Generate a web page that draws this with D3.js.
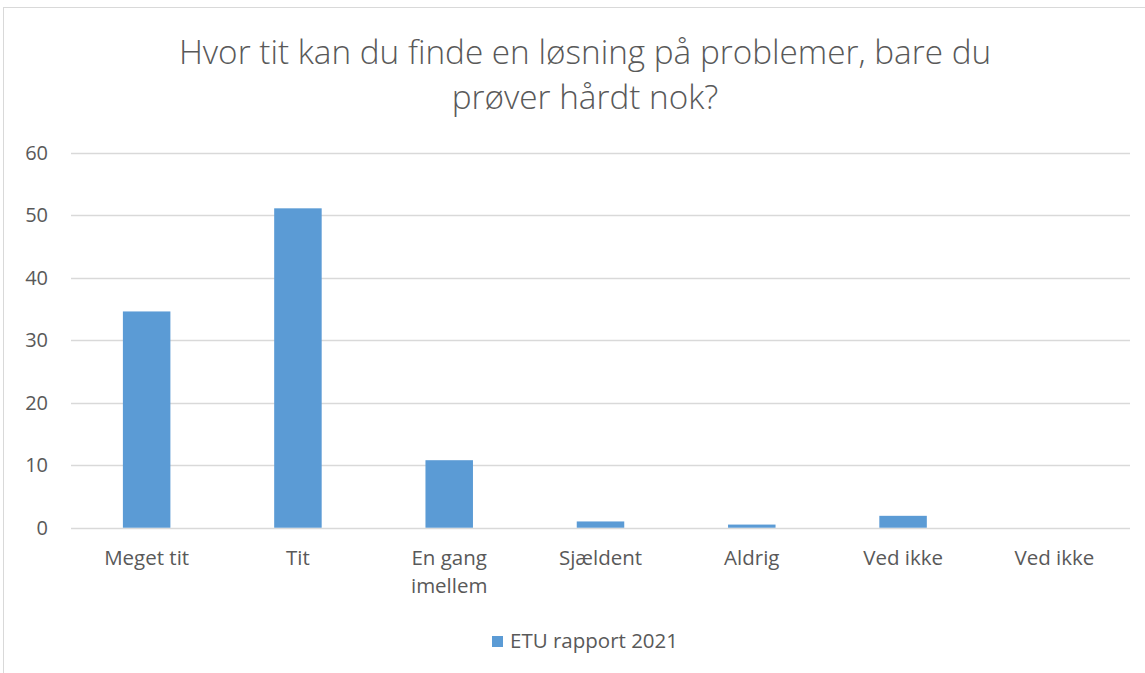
<!DOCTYPE html>
<html><head><meta charset="utf-8">
<script src="https://cdn.jsdelivr.net/npm/d3@7"></script>
<style>body{margin:0;background:#fff}svg{display:block}</style>
</head><body>
<script>
const categories = ["Meget tit", "Tit", "En gang imellem", "Sjældent", "Aldrig", "Ved ikke", "Ved ikke"];
const categoryLines = [["Meget tit"], ["Tit"], ["En gang", "imellem"], ["Sjældent"], ["Aldrig"], ["Ved ikke"], ["Ved ikke"]];
const values = [34.6, 51.1, 10.8, 1.0, 0.5, 1.9, 0];
const yTicks = [0, 10, 20, 30, 40, 50, 60];
const seriesName = "ETU rapport 2021";
const titleLines = ["Hvor tit kan du finde en løsning på problemer, bare du", "prøver hårdt nok?"];

(function () {
const W = 1145, H = 673;
const svg = d3.select("body").append("svg").attr("width", W).attr("height", H);
const font = "'Open Sans', Carlito, sans-serif";
const textColor = "#595959";

svg.append("rect").attr("x", 3.5).attr("y", 7.5).attr("width", 1160).attr("height", 700)
  .attr("fill", "#fff").attr("stroke", "#d9d9d9");

const pLeft = 71, pRight = 1130, pTop = 152.7, pBottom = 527.7;
const idx = categories.map((d, i) => i);
const x = d3.scaleBand().domain(idx).range([pLeft, pRight]).paddingInner(0.686).paddingOuter(0.343);
const y = d3.scaleLinear().domain([0, 60]).range([pBottom, pTop]);

svg.append("g").selectAll("text").data(titleLines).join("text")
  .attr("x", 585).attr("y", (d, i) => 64 + i * 45)
  .attr("text-anchor", "middle").attr("font-family", font).attr("font-weight", 300)
  .attr("font-size", 33.3).attr("fill", textColor).text(d => d);

const grid = svg.append("g");
grid.selectAll("line").data(yTicks).join("line")
  .attr("x1", pLeft).attr("x2", pRight)
  .attr("y1", d => Math.round(y(d)) + 0.5).attr("y2", d => Math.round(y(d)) + 0.5)
  .attr("stroke", "#d9d9d9").attr("stroke-width", 1.3);

svg.append("g").selectAll("text").data(yTicks).join("text")
  .attr("x", 48).attr("y", d => y(d)).attr("dy", "0.35em")
  .attr("text-anchor", "end").attr("font-family", font).attr("font-size", 20)
  .attr("fill", textColor).text(d => d);

svg.append("g").selectAll("rect").data(values).join("rect")
  .attr("x", (d, i) => x(i)).attr("width", x.bandwidth())
  .attr("y", d => y(d)).attr("height", d => y(0) - y(d))
  .attr("fill", "#5b9bd5");

const xl = svg.append("g");
categoryLines.forEach((lines, i) => {
  lines.forEach((t, j) => {
    xl.append("text").attr("x", x(i) + x.bandwidth() / 2).attr("y", 565 + j * 28)
      .attr("text-anchor", "middle").attr("font-family", font).attr("font-size", 20.5)
      .attr("fill", textColor).text(t);
  });
});

const lg = svg.append("g");
lg.append("rect").attr("x", 492).attr("y", 636).attr("width", 11).attr("height", 11).attr("fill", "#5b9bd5");
lg.append("text").attr("x", 510).attr("y", 648).attr("font-family", font).attr("font-size", 20.5)
  .attr("fill", textColor).text(seriesName);
})();
</script>
</body></html>
